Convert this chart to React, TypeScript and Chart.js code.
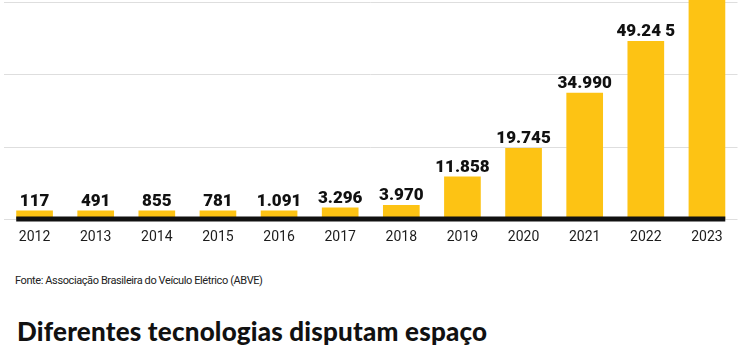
import React, { useEffect, useRef } from "react";
import { Chart, registerables } from "chart.js";

Chart.register(...registerables);

const years = ["2012", "2013", "2014", "2015", "2016", "2017", "2018", "2019", "2020", "2021", "2022", "2023"];
const sales = [117, 491, 855, 781, 1091, 3296, 3970, 11858, 19745, 34990, 49245, 93927];
const valueLabels = ["117", "491", "855", "781", "1.091", "3.296", "3.970", "11.858", "19.745", "34.990", "49.24 5", "93.927"];
const yTicks = [0, 20000, 40000, 60000];
const sourceText = "Fonte: Associação Brasileira do Veículo Elétrico (ABVE)";
const titleText = "Diferentes tecnologias disputam espaço";

const barColor = "#FDC314";

const decorPlugin = {
  id: "decor",
  afterDatasetsDraw(chart: any) {
    const ctx = chart.ctx;
    const meta = chart.getDatasetMeta(0);
    const bars = meta.data;
    if (!bars.length) return;
    const y0 = chart.scales.y.getPixelForValue(0);
    const first = bars[0];
    const last = bars[bars.length - 1];
    const left = first.x - first.width / 2;
    const right = last.x + last.width / 2;
    ctx.save();
    ctx.fillStyle = "#111111";
    ctx.fillRect(left, y0 - 3, right - left, 5);
    ctx.font = "900 17px Roboto";
    ctx.fillStyle = "#111111";
    ctx.textAlign = "center";
    ctx.textBaseline = "alphabetic";
    bars.forEach((bar: any, i: number) => {
      const ty = bar.y - 5;
      if (ty > 12) ctx.fillText(valueLabels[i], bar.x, ty);
    });
    ctx.restore();
  },
};

export default function App() {
  const canvasRef = useRef<HTMLCanvasElement | null>(null);

  useEffect(() => {
    document.body.style.margin = "0";
    const canvas = canvasRef.current;
    if (!canvas) return;
    const chart = new Chart(canvas, {
      type: "bar",
      data: {
        labels: years,
        datasets: [
          {
            data: sales,
            backgroundColor: barColor,
            borderWidth: 0,
            barPercentage: 0.6,
            categoryPercentage: 1,
            minBarLength: 9,
            clip: false,
          },
        ],
      },
      options: {
        animation: false,
        responsive: false,
        devicePixelRatio: 1,
        layout: { padding: { left: 4, right: 12.5, top: 2, bottom: 0 } },
        plugins: { legend: { display: false }, tooltip: { enabled: false }, title: { display: false } },
        scales: {
          x: {
            grid: { display: false, drawTicks: false },
            border: { display: false },
            ticks: { color: "#1c1c1c", font: { family: "Roboto", size: 14 }, padding: 10, maxRotation: 0 },
            afterFit: (s: any) => {
              s.height = 30.5;
            },
          },
          y: {
            min: yTicks[0],
            max: yTicks[yTicks.length - 1],
            ticks: { display: false, stepSize: yTicks[1] - yTicks[0] },
            grid: { color: "#dedede", lineWidth: 1, drawTicks: false },
            border: { display: false },
            afterFit: (s: any) => {
              s.width = 0;
            },
          },
        },
      },
      plugins: [decorPlugin],
    });
    return () => chart.destroy();
  }, []);

  return (
    <div style={{ position: "relative", width: 750, height: 350, background: "#ffffff", overflow: "hidden" }}>
      <canvas ref={canvasRef} width={750} height={250} style={{ display: "block" }} />
      <div
        style={{
          position: "absolute",
          left: 15,
          top: 275,
          fontFamily: "Roboto, sans-serif",
          fontSize: 11,
          lineHeight: "11px",
          color: "#222",
          whiteSpace: "nowrap",
          letterSpacing: "-0.4px",
        }}
      >
        {sourceText}
      </div>
      <div
        style={{
          position: "absolute",
          left: 17,
          top: 318,
          fontFamily: "Lato, sans-serif",
          fontWeight: 900,
          fontSize: 26,
          lineHeight: "26px",
          color: "#111",
          whiteSpace: "nowrap",
          letterSpacing: "0.2px",
        }}
      >
        {titleText}
      </div>
    </div>
  );
}
